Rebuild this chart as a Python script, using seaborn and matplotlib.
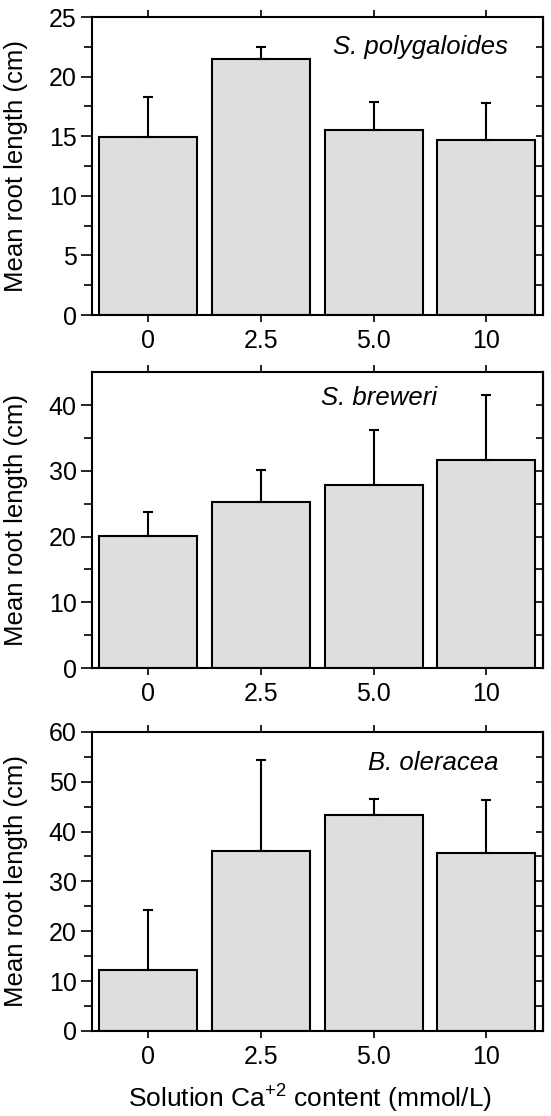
import numpy as np
import pandas as pd
import matplotlib
matplotlib.use("Agg")
import matplotlib.pyplot as plt
import seaborn as sns

# Données (moyenne + écart vers le haut)
doses = ['0', '2.5', '5.0', '10']

poly_mean = [14.9, 21.5, 15.5, 14.7]
poly_err = [3.4, 1.0, 2.4, 3.1]

brew_mean = [20.1, 25.2, 27.8, 31.7]
brew_err = [3.7, 5.0, 8.4, 9.8]

oler_mean = [12.2, 36.1, 43.3, 35.7]
oler_err = [12.0, 18.2, 3.3, 10.6]

species = ['S. polygaloides', 'S. breweri', 'B. oleracea']
ymax = [25, 45, 60]
major_step = [5, 10, 10]
minor_step = [2.5, 5, 5]

sns.set_style('ticks')
plt.rcParams['font.family'] = ['Liberation Sans', 'DejaVu Sans']
plt.rcParams['mathtext.fontset'] = 'custom'
plt.rcParams['mathtext.rm'] = 'Liberation Sans'
plt.rcParams['mathtext.default'] = 'regular'
for k in ['text.color', 'axes.labelcolor', 'xtick.color', 'ytick.color', 'axes.edgecolor']:
    plt.rcParams[k] = 'black'

fig = plt.figure(figsize=(5.51, 11.16), dpi=100)

# positions des panneaux (en fraction de la figure)
boxes = [
    [0.167, 0.7177, 0.818, 0.267],
    [0.167, 0.4014, 0.818, 0.265],
    [0.167, 0.0762, 0.818, 0.268],
]
text_pos = [(0.729, 0.898), (0.636, 0.912), (0.758, 0.897)]

means = [poly_mean, brew_mean, oler_mean]
errs = [poly_err, brew_err, oler_err]

for i in range(3):
    ax = fig.add_axes(boxes[i])
    df = pd.DataFrame({'dose': doses, 'length': means[i]})
    sns.barplot(data=df, x='dose', y='length', order=doses, color='#dedede',
                saturation=1, width=0.87, edgecolor='black', linewidth=1.5,
                errorbar=None, ax=ax)
    ax.errorbar(np.arange(len(doses)), means[i],
                yerr=[np.zeros(len(doses)), errs[i]], fmt='none',
                ecolor='black', elinewidth=1.5, capsize=3.6, capthick=1.5, zorder=5)

    ax.set_xlim(-0.5, 3.5)
    ax.set_ylim(0, ymax[i])
    ax.set_yticks(np.arange(0, ymax[i] + 0.1, major_step[i]))
    ax.set_yticks(np.arange(minor_step[i], ymax[i], major_step[i]), minor=True)

    for s in ax.spines.values():
        s.set_visible(True)
        s.set_linewidth(1.5)
        s.set_color('black')

    ax.tick_params(axis='y', which='major', direction='out', length=8, width=1.2,
                   labelsize=18, pad=3)
    ax.tick_params(axis='y', which='minor', direction='out', length=5.5, width=1.2)
    ax.tick_params(axis='x', direction='out', length=5, width=1.2, top=True,
                   labelsize=18, pad=5)

    # graduations internes à droite
    sec = ax.secondary_yaxis('right')
    sec.set_yticks(np.arange(minor_step[i], ymax[i], minor_step[i]))
    sec.tick_params(direction='in', length=5, width=1.2, labelright=False)
    sec.spines['right'].set_linewidth(1.5)

    ax.set_ylabel('Mean root length (cm)', fontsize=18.5)
    ax.yaxis.set_label_coords(-0.142, 0.5)
    ax.set_xlabel('')

    ax.text(text_pos[i][0], text_pos[i][1], species[i], transform=ax.transAxes,
            ha='center', va='center', fontsize=18.5, style='italic')

    if i == 2:
        ax.set_xlabel('Solution Ca$^{+2}$ content (mmol/L)', fontsize=19)
        ax.xaxis.label.set_va('baseline')
        ax.xaxis.set_label_coords(0.484, -0.256)

fig.savefig('out.png', dpi=100)
